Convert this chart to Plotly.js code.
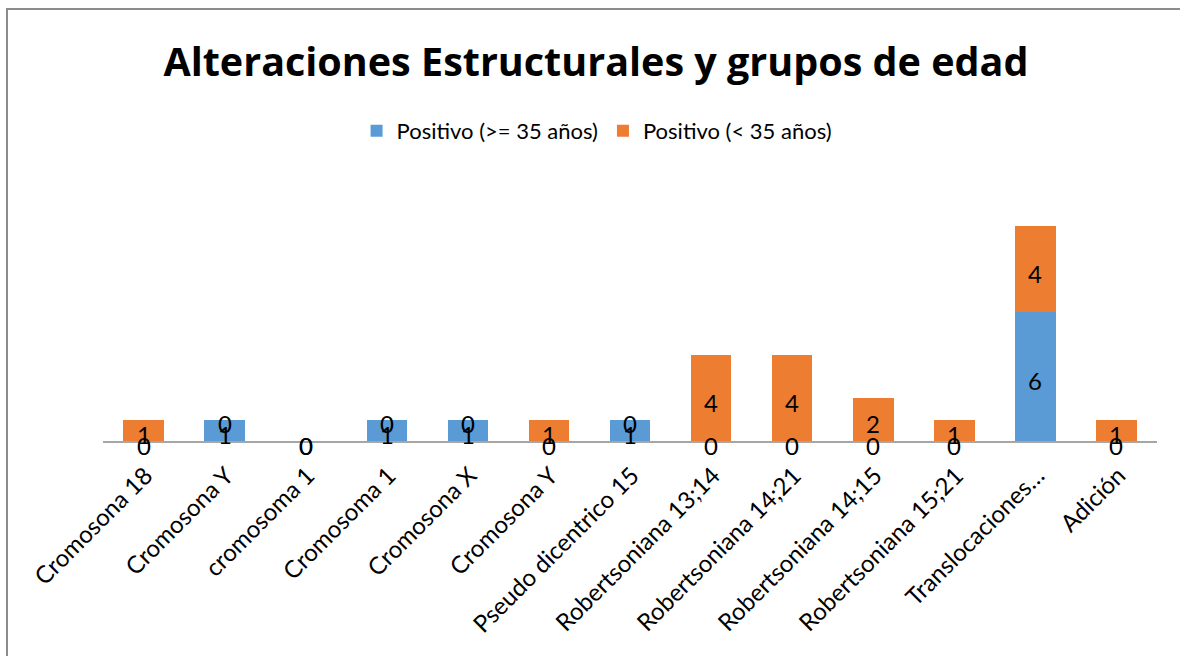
<!DOCTYPE html>
<html>
<head>
<meta charset="utf-8">
<script src="https://cdn.plot.ly/plotly-3.0.1.min.js"></script>
<style>
  html, body { margin: 0; padding: 0; background: #fff; }
  #wrap { position: absolute; left: 0; top: 0; width: 1180px; height: 656px; }
  #frame { position: absolute; left: 6px; top: 8px; width: 1180px; height: 660px;
           border-left: 2px solid #8c8c8c; border-top: 2px solid #8c8c8c; pointer-events: none; }
  #chart { position: absolute; left: 0; top: 0; width: 1180px; height: 656px; }
</style>
</head>
<body>
<div id="wrap">
  <div id="chart"></div>
  <div id="frame"></div>
</div>
<script>
const categories = ["Cromosona 18", "Cromosona Y", "cromosoma 1", "Cromosoma 1", "Cromosona X",
  "Cromosona Y", "Pseudo dicentrico 15", "Robertsoniana 13;14", "Robertsoniana 14;21",
  "Robertsoniana 14;15", "Robertsoniana 15;21", "Translocaciones…", "Adición"];
const seriesNames = ["Positivo (>= 35 años)", "Positivo (< 35 años)"];
const positivoMayor35 = [0, 1, 0, 1, 1, 0, 1, 0, 0, 0, 0, 6, 0];
const positivoMenor35 = [1, 0, 0, 0, 0, 1, 0, 4, 4, 2, 1, 4, 1];
const colors = ["#5B9BD5", "#ED7D31"];

const idx = categories.map((_, i) => i);
const FONT = "Lato, 'Open Sans', sans-serif";
const TITLEFONT = "'Open Sans', Lato, sans-serif";

const traces = [
  { type: "bar", x: idx, y: positivoMayor35, name: seriesNames[0],
    marker: { color: colors[0] }, hoverinfo: "skip" },
  { type: "bar", x: idx, y: positivoMenor35, name: seriesNames[1],
    marker: { color: colors[1] }, hoverinfo: "skip" }
];

// data labels, centred in each stacked segment (built from the arrays)
const annotations = [];
idx.forEach(i => {
  const b = positivoMayor35[i], o = positivoMenor35[i];
  annotations.push({ x: i, y: b / 2, xref: "x", yref: "y", text: String(b),
    showarrow: false, yshift: -4, font: { family: FONT, size: 24, color: "#000" } });
  annotations.push({ x: i, y: b + o / 2, xref: "x", yref: "y", text: String(o),
    showarrow: false, yshift: -4, font: { family: FONT, size: 24, color: "#000" } });
});

const layout = {
  width: 1180, height: 656,
  margin: { l: 103, r: 23, t: 183, b: 215 },
  paper_bgcolor: "rgba(0,0,0,0)", plot_bgcolor: "rgba(0,0,0,0)",
  barmode: "stack", bargap: 0.5,
  hovermode: false,
  font: { family: FONT, color: "#000" },
  title: { text: "<b>Alteraciones Estructurales y grupos de edad</b>",
    font: { family: TITLEFONT, size: 39.5, color: "#000" },
    xref: "container", x: 0.505, xanchor: "center",
    yref: "container", y: 1 - 62 / 656, yanchor: "middle" },
  legend: { orientation: "h", xref: "container", x: 0.506, xanchor: "center",
    yref: "container", y: 1 - 131 / 656, yanchor: "middle",
    font: { family: FONT, size: 22, color: "#000" }, itemwidth: 30, traceorder: "normal" },
  annotations: annotations,
  xaxis: { range: [-0.5, 12.5], tickmode: "array", tickvals: idx, ticktext: categories,
    tickangle: -45, tickfont: { family: FONT, size: 24, color: "#000" },
    ticklabelstandoff: 9, ticklabelshift: 2,
    showline: true, linecolor: "#a6a6a6", linewidth: 2, showgrid: false, zeroline: false,
    ticks: "", fixedrange: true },
  yaxis: { range: [0, 12], visible: false, fixedrange: true }
};

Plotly.newPlot("chart", traces, layout, { displayModeBar: false, staticPlot: true });
</script>
</body>
</html>
